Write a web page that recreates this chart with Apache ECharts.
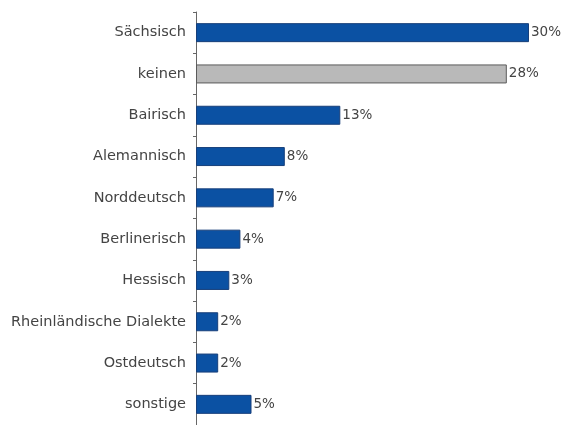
<!DOCTYPE html>
<html>
<head>
<meta charset="utf-8">
<script src="https://cdn.jsdelivr.net/npm/echarts@6/dist/echarts.min.js"></script>
<style>
  html, body { margin: 0; padding: 0; background: #fff; }
  #chart { width: 568px; height: 425px; }
</style>
</head>
<body>
<div id="chart"></div>
<script>
// Dialect categories, top to bottom
const categories = [
  'Sächsisch', 'keinen', 'Bairisch', 'Alemannisch', 'Norddeutsch',
  'Berlinerisch', 'Hessisch', 'Rheinländische Dialekte', 'Ostdeutsch', 'sonstige'
];
// Share in percent
const values = [30, 28, 13, 8, 7, 4, 3, 2, 2, 5];
// Categories drawn in grey instead of blue
const greyCategories = ['keinen'];

const blue = '#0b51a3';
const blueBorder = '#173f7a';
const grey = '#b9b9b9';
const greyBorder = '#5a5a5a';
const textFont = 'DejaVu Sans, Verdana, sans-serif';

const chart = echarts.init(document.getElementById('chart'), null, { renderer: 'canvas' });

const data = values.map((v, i) => {
  const isGrey = greyCategories.includes(categories[i]);
  return {
    value: v,
    itemStyle: {
      color: isGrey ? grey : blue,
      borderColor: isGrey ? greyBorder : blueBorder,
      borderWidth: 1
    }
  };
});

chart.setOption({
  animation: false,
  backgroundColor: '#ffffff',
  grid: { left: 196, top: 12, width: 333, height: 417, containLabel: false },
  xAxis: {
    type: 'value',
    min: 0,
    max: 30,
    show: false
  },
  yAxis: {
    type: 'category',
    data: categories,
    inverse: true,
    boundaryGap: true,
    axisLine: { show: true, lineStyle: { color: '#666', width: 1 } },
    axisTick: { show: true, length: 3, lineStyle: { color: '#666' } },
    axisLabel: {
      color: '#444',
      fontFamily: textFont,
      fontSize: 14.5,
      margin: 10
    },
    splitLine: { show: false }
  },
  series: [{
    type: 'bar',
    data: data,
    barWidth: 19,
    label: {
      show: true,
      position: 'right',
      distance: 2,
      formatter: p => p.value + '%',
      color: '#444',
      fontFamily: textFont,
      fontSize: 13.5
    }
  }]
});
</script>
</body>
</html>
